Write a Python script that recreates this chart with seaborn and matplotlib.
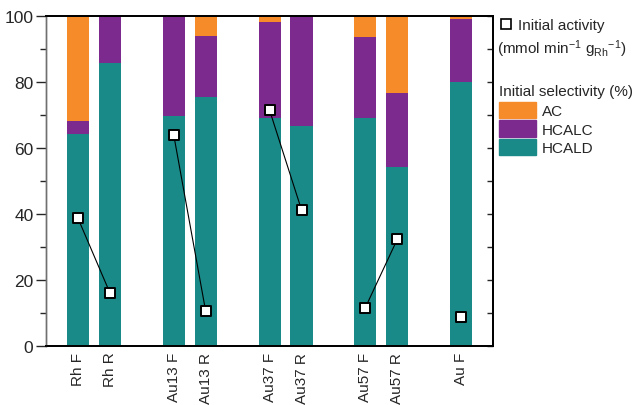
import numpy as np
import pandas as pd
import seaborn as sns
import matplotlib.pyplot as plt
from matplotlib.lines import Line2D
from matplotlib.patches import Patch

# Catalysts and where they sit along the x axis (pairs F/R grouped)
samples = ["Rh F", "Rh R", "Au13 F", "Au13 R", "Au37 F", "Au37 R", "Au57 F", "Au57 R", "Au F"]
positions = [0, 1, 3, 4, 6, 7, 9, 10, 12]
pair = ["Rh", "Rh", "Au13", "Au13", "Au37", "Au37", "Au57", "Au57", "Au"]

# Initial selectivity (%)
hcald = [64.2, 85.7, 69.6, 75.4, 69.1, 66.8, 69.0, 54.3, 80.1]
hcalc = [4.0, 14.3, 30.4, 18.6, 29.2, 33.2, 24.7, 22.5, 19.0]
ac = [31.8, 0.0, 0.0, 6.0, 1.7, 0.0, 6.3, 23.2, 0.9]

# Initial activity (mmol min-1 gRh-1)
activity = [38.8, 16.2, 64.0, 10.6, 71.5, 41.3, 11.7, 32.4, 8.9]

col_ac = "#F68B2A"
col_hcalc = "#7D2A8E"
col_hcald = "#198A87"

df = pd.DataFrame({"sample": samples, "pos": positions, "pair": pair,
                   "HCALD": hcald, "HCALC": hcalc, "AC": ac, "activity": activity})
df["top_hcalc"] = df["HCALD"] + df["HCALC"]
df["top_ac"] = df["top_hcalc"] + df["AC"]

sns.set_style("white")
plt.rcParams["font.family"] = ["Liberation Sans", "DejaVu Sans"]
plt.rcParams["mathtext.fontset"] = "custom"
plt.rcParams["mathtext.rm"] = "Liberation Sans"
plt.rcParams["mathtext.it"] = "Liberation Sans"

fig = plt.figure(figsize=(6.38, 4.06), dpi=100)
ax = fig.add_axes([0.072, 0.145, 0.701, 0.813])

# stacked bars drawn as cumulative layers
for col, c in [("top_ac", col_ac), ("top_hcalc", col_hcalc), ("HCALD", col_hcald)]:
    sns.barplot(data=df, x="pos", y=col, native_scale=True, width=0.69,
                color=c, saturation=1, linewidth=0, ax=ax, errorbar=None)

# activity markers, lines joining each F/R pair
sns.lineplot(data=df, x="pos", y="activity", units="pair", estimator=None,
             color="black", linewidth=0.8, ax=ax, legend=False)
sns.scatterplot(data=df, x="pos", y="activity", marker="s", s=55,
                facecolor="white", edgecolor="black", linewidth=1.4,
                ax=ax, zorder=5, legend=False)

ax.set_xlim(-1, 13)
ax.set_ylim(0, 100)
ax.set_xticks(positions)
ax.set_xticklabels(samples, rotation=90, fontsize=11)
ax.set_yticks([0, 20, 40, 60, 80, 100])
ax.set_yticks([10, 30, 50, 70, 90], minor=True)
ax.tick_params(axis="y", which="major", direction="out", length=7, width=1,
               labelsize=12.5, left=True, pad=2)
ax.tick_params(axis="y", which="minor", direction="out", length=4, width=1, left=True)
ax.tick_params(axis="x", length=0, pad=4)
ax.set_xlabel("")
ax.set_ylabel("")

# right axis (activity scale), ticks inward, no labels
ax2 = ax.twinx()
ax2.set_ylim(0, 100)
ax2.set_yticks([0, 20, 40, 60, 80, 100])
ax2.set_yticks([10, 30, 50, 70, 90], minor=True)
ax2.tick_params(axis="y", which="both", direction="in", length=4, width=1,
                labelright=False, right=True)
ax2.grid(False)

for a in (ax, ax2):
    for side in ["top", "right", "bottom"]:
        a.spines[side].set_color("black")
        a.spines[side].set_linewidth(1.3)
        a.spines[side].set_visible(True)
    a.spines["left"].set_color("#707070")
    a.spines["left"].set_linewidth(1.0)
    a.spines["left"].set_visible(True)

# legends
h1 = [Line2D([], [], marker="s", linestyle="none", markerfacecolor="white",
             markeredgecolor="black", markersize=7, markeredgewidth=1.2)]
leg1 = ax2.legend(h1, ["Initial activity"], loc="upper left",
                  bbox_to_anchor=(0.995, 1.025), frameon=False, fontsize=11,
                  handlelength=0.6, handletextpad=0.5, borderaxespad=0.3)
ax2.add_artist(leg1)
fig.text(497 / 638, 1 - 49 / 406, "(mmol min$^{-1}$ g$_{\\mathrm{Rh}}$$^{-1}$)",
         fontsize=11, ha="left", va="center")

h2 = [Patch(color=col_ac), Patch(color=col_hcalc), Patch(color=col_hcald)]
leg2 = ax2.legend(h2, ["AC", "HCALC", "HCALD"], title="Initial selectivity (%)",
                  loc="upper left", bbox_to_anchor=(0.99, 0.828), frameon=False,
                  fontsize=11, title_fontsize=11, handlelength=2.4, handleheight=1.3,
                  handletextpad=0.4, labelspacing=0.12, borderaxespad=0.3)
leg2._legend_box.align = "left"
leg2._legend_box.sep = 3

fig.savefig("out.png", dpi=100)
